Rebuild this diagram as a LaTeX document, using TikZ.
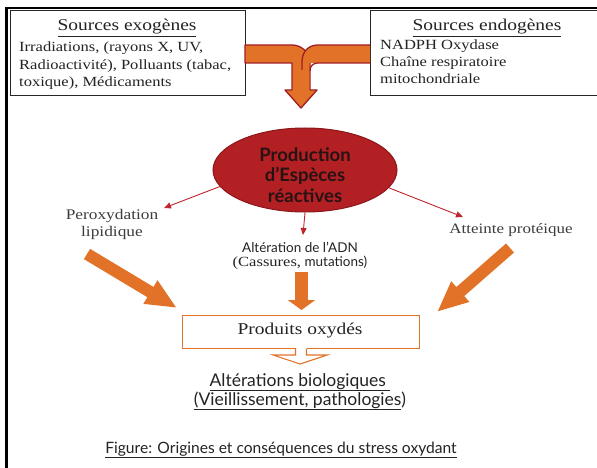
\documentclass[tikz,border=0pt]{standalone}
\usepackage{fontspec}
\setmainfont{Liberation Serif}[FakeStretch=1.18]
\setsansfont{Lato}
\usetikzlibrary{arrows.meta,shapes.geometric,calc}
\definecolor{orng}{RGB}{226,114,40}
\definecolor{pipered}{RGB}{160,30,36}
\definecolor{ellred}{RGB}{178,32,36}
\definecolor{ellline}{RGB}{140,22,26}
\definecolor{thinred}{RGB}{192,36,44}
\definecolor{txt}{RGB}{35,35,35}
\definecolor{gtxt}{RGB}{60,60,60}
\tikzset{
  srcbox/.style={draw=black!85, line width=0.9pt},
  sertxt/.style={inner sep=0pt, text=txt},
  thinarrow/.style={draw=thinred, line width=0.9pt, -{Triangle[length=7pt,width=6pt]}},
  bigarrow/.style={draw=orng, line width=12pt, -{Triangle[length=31pt,width=25pt]}},
  midarrow/.style={draw=orng, line width=13pt, -{Triangle[length=10pt,width=27pt]}},
  pipe/.style={fill=orng, draw=pipered, line width=1.3pt, line join=round},
}
\begin{document}
\begin{tikzpicture}[x=1pt,y=-1pt]
\useasboundingbox (0,0) rectangle (597,468);
\fill[white] (0,0) rectangle (597,468);
% frame
\draw[line width=2.6pt, line join=miter] (6.5,470) -- (6.5,8) -- (600,8);
% source boxes
\draw[srcbox] (10,10) rectangle (245,95);
\draw[srcbox] (602,10) -- (370,10) -- (370,95) -- (602,95);
\node[sertxt, anchor=base, font=\fontsize{16.5}{18}\selectfont] (exot) at (127,31) {\underline{Sources exogènes}};
\node[sertxt, anchor=base west, align=left, font=\fontsize{14}{17.3}\selectfont] (exob) at (19,86.5)
  {Irradiations, (rayons X, UV,\\Radioactivité), Polluants (tabac,\\toxique), Médicaments};
\node[sertxt, anchor=base, font=\fontsize{16.5}{18}\selectfont] (endot) at (487,31) {\underline{Sources endogènes}};
\node[sertxt, anchor=base west, align=left, font=\fontsize{14}{17.3}\selectfont] (endob) at (380,84)
  {NADPH Oxydase\\Chaîne respiratoire\\mitochondriale};
% orange pipe
\path[pipe] (245,45) -- (292,45) .. controls (302,45) and (310,53) .. (310,63) -- (310,90) -- (317,90)
  -- (301,108) -- (285,90) -- (292,90) -- (292,63) -- (245,63) -- cycle;
\fill[orng] (370,45) -- (318,45) .. controls (308,45) and (302,52) .. (302,62) -- (302,91) -- (309.3,91) -- (309.3,63) -- (370,63) -- cycle;
\draw[draw=pipered, line width=1.3pt, line join=round] (370,45) -- (318,45) .. controls (308,45) and (302,52) .. (302,62) -- (302,70);
\draw[draw=pipered, line width=1.3pt, line join=round] (370,63) -- (318,63) .. controls (313,63) and (310,66) .. (310,71);
\coordinate (pipetip) at (301,108);
% ellipse
\node[ellipse, fill=ellred, draw=ellline, line width=1pt, minimum width=184pt, minimum height=84pt, inner sep=0pt] (ell) at (305,170) {};
\node[align=center, inner sep=0pt, text={rgb,255:red,40;green,18;blue,18}, font=\sffamily\bfseries\fontsize{18.5}{20.5}\selectfont, anchor=base] (elltxt) at (305,202)
  {Production\\d’Espèces\\réactives};
% effect labels
\node[sertxt, text=gtxt, align=center, anchor=base, font=\fontsize{14.7}{17}\selectfont] (perox) at (112,236) {Peroxydation\\lipidique};
\node[sertxt, text=gtxt, anchor=base, font=\fontsize{14.4}{16}\selectfont] (prot) at (511,233) {Atteinte protéique};
\node[inner sep=0pt, text=txt, align=center, anchor=base, font=\sffamily\fontsize{13.5}{13.5}\selectfont] (adn) at (300,266)
  {Altération de l’ADN\\[0.5pt]{\rmfamily\fontsize{14}{14}\selectfont(Cassures,} mutations)};
% thin red arrows
\coordinate (tl) at (164,208);
\coordinate (tr) at (463,217);
\draw[thinarrow] (ell.191) -- (tl);
\draw[thinarrow] (ell.south) -- (303,235);
\draw[thinarrow] (ell.348) -- (tr);
% produits box
\node[draw=orng, line width=1.1pt, minimum width=237pt, minimum height=33pt, inner sep=0pt, anchor=north west] (prod) at (182,315) {};
\node[sertxt, anchor=base, font=\fontsize{16.5}{18}\selectfont] (prodt) at (300,334) {Produits oxydés};
% big orange arrows
\coordinate (la1) at (87,254);
\coordinate (la2) at (177,308);
\draw[bigarrow] (la1) -- (la2);
\coordinate (ma1) at (301.5,272);
\coordinate (ma2) at (301.5,310);
\draw[midarrow] (ma1) -- (ma2);
\coordinate (ra1) at (510,248);
\coordinate (ra2) at (437,312);
\draw[bigarrow] (ra1) -- (ra2);
% hollow arrow below box
\fill[white] (295.5,346) rectangle (306.5,350);
\draw[draw=orng, line width=1.1pt, line join=miter] (295.5,348.5) -- (295.5,355) -- (273,355) -- (300,364) -- (327,355) -- (306.5,355) -- (306.5,348.5);
% results
\node[inner sep=0pt, text=txt, anchor=base, font=\sffamily\fontsize{17.5}{18}\selectfont] (alt1) at (300,386) {\underline{Altérations biologiques\ }};
\node[inner sep=0pt, text=txt, anchor=base, font=\sffamily\fontsize{17.5}{18}\selectfont] (alt2) at (300,405) {\underline{(Vieillissement, pathologies})};
\node[inner sep=0pt, text=txt, anchor=base, font=\sffamily\fontsize{15.6}{16}\selectfont] (cap) at (281,453) {\underline{Figure: Origines et conséquences du stress oxydant}};
\end{tikzpicture}
\end{document}
